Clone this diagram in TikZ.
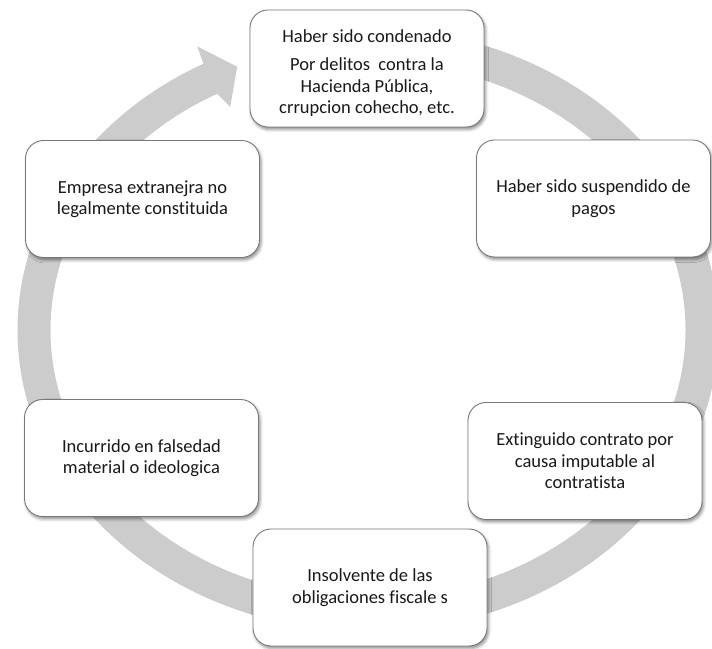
\documentclass[tikz,border=0pt]{standalone}
\usepackage{fontspec}
\setmainfont{Carlito}[RawFeature={-liga}]
\usetikzlibrary{calc,shadows.blur}
\definecolor{ringgray}{RGB}{204,204,204}
\definecolor{boxline}{RGB}{120,120,120}
\definecolor{txt}{RGB}{25,25,25}
\begin{document}
\begin{tikzpicture}[x=1pt,y=1pt,
  cbox/.style={draw=boxline, line width=0.9pt, fill=white, rounded corners=18pt,
    minimum width=234pt, minimum height=117pt, align=center,
    font=\fontsize{18.5}{21.5}\selectfont, text=txt, inner sep=0pt,
    blur shadow={shadow xshift=1.5pt, shadow yshift=-2.5pt, shadow blur radius=3pt, shadow opacity=45}}]
\useasboundingbox (0,0) rectangle (712,648);
% ring
\draw[ringgray, line width=33pt] (368,603) arc[start angle=90, end angle=-242, x radius=334, y radius=285] coordinate (E);
\fill[ringgray] ($(E)+(-7.7,14.6)$) -- ($(E)+(-14,32)$) -- ($(E)+(26,11.6)$) -- ($(E)+(19,-28.6)$) -- ($(E)+(5.9,-15.4)$) -- cycle;
% boxes
\node[cbox] (t) at (367,579.5) {\rule{0pt}{22pt}Haber sido condenado\\[6.5pt] Por delitos\ \ contra la\\ Hacienda Pública,\\ crrupcion cohecho, etc.};
\node[cbox] (ru) at (593.5,449.5) {Haber sido suspendido de\\ pagos};
\node[cbox] (rl) at (585,187) {Extinguido contrato por\\ causa imputable al\\ contratista};
\node[cbox] (b) at (370,60.5) {Insolvente de las\\ obligaciones fiscale s};
\node[cbox] (ll) at (141.5,190) {Incurrido en falsedad\\ material o ideologica};
\node[cbox] (lu) at (142.5,449) {Empresa extranejra no\\ legalmente constituida};
\end{tikzpicture}
\end{document}
